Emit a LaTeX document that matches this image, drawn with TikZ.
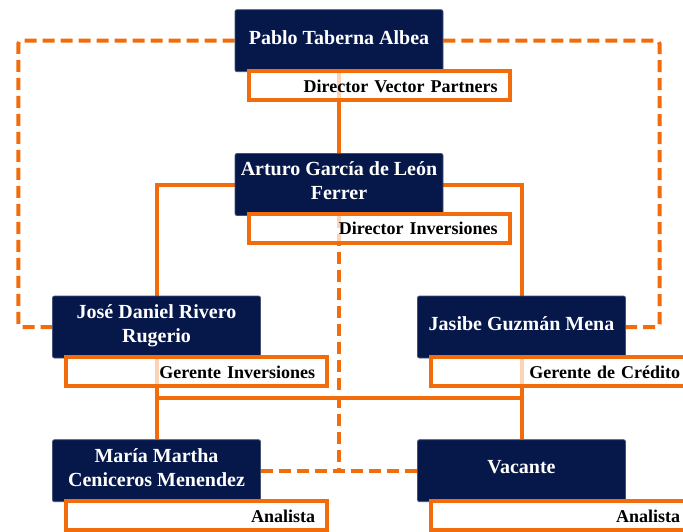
\documentclass[tikz,border=0pt]{standalone}
\usepackage{fontspec}
\setmainfont{Liberation Serif}
\usetikzlibrary{calc}
\definecolor{navy}{RGB}{6,24,74}
\definecolor{orng}{RGB}{242,108,12}
\pgfdeclarelayer{background}
\pgfsetlayers{background,main}
\tikzset{
  namebox/.style={fill=navy, draw=navy!75!white, line width=0.8pt, rounded corners=2pt,
    minimum width=208pt, minimum height=62pt, inner sep=2pt, text=white, align=center,
    text depth=7pt, font=\fontsize{20}{24}\selectfont\bfseries},
  rolebox/.style={draw=orng, line width=4pt, fill=white, fill opacity=0.7, text opacity=1,
    anchor=north west, outer sep=0pt, minimum height=29pt, inner xsep=12pt, inner ysep=0pt,
    text width=237pt, align=right, text=black, text height=12.8pt, text depth=0pt,
    font=\fontsize{18}{20}\selectfont\bfseries},
  solidline/.style={draw=orng, line width=4pt},
  dashline/.style={draw=orng, line width=4pt, dash pattern=on 12pt off 6pt, rounded corners=3pt}
}
\begin{document}
\begin{tikzpicture}[x=1pt,y=-1pt]
\useasboundingbox (0,0) rectangle (683,531);
\clip (0,0) rectangle (683,531);
% name boxes
\node[namebox] (pablo) at (339,40.7) {Pablo Taberna Albea};
\node[namebox] (arturo) at (339,184.5) {Arturo García de León\\Ferrer};
\node[namebox] (jose) at (156.5,327) {José Daniel Rivero\\Rugerio};
\node[namebox] (jasibe) at (521.5,327) {Jasibe Guzmán Mena};
\node[namebox] (maria) at (156.5,470.7) {María Martha\\Ceniceros Menendez};
\node[namebox] (vacante) at (521.5,470.7) {Vacante};
% role boxes
\node[rolebox] (pablorole) at ($(pablo.south west)+(14,-1)$) {Director Vector Partners};
\node[rolebox] (arturorole) at ($(arturo.south west)+(14,-2)$) {Director Inversiones};
\node[rolebox] (joserole) at ($(jose.south west)+(14,-1)$) {Gerente Inversiones};
\node[rolebox] (jasiberole) at ($(jasibe.south west)+(14,-1)$) {Gerente de Crédito};
\node[rolebox] (mariarole) at ($(maria.south west)+(14,-1)$) {Analista};
\node[rolebox] (vacanterole) at ($(vacante.south west)+(14,-1)$) {Analista};
\coordinate (lx) at (18.3,0);
\coordinate (rx) at (659.5,0);
\begin{pgfonlayer}{background}
\draw[solidline] (pablo.south) -- (arturo.north);
\draw[solidline] (arturo.west) -| (jose.north);
\draw[solidline] (arturo.east) -| (jasibe.north);
\draw[solidline] (jose.south) -- (maria.north);
\draw[solidline] (jasibe.south) -- (vacante.north);
\draw[solidline] (jose.south) -- ++(0,40) -| (vacante.north);
\draw[solidline] (jasibe.south) -- ++(0,40) -| (maria.north);
\draw[dashline] (pablo.west) -| (lx |- jose.west) -- (jose.west);
\draw[dashline] (pablo.east) -| (rx |- jasibe.east) -- (jasibe.east);
\draw[dashline] (arturo.south) -- (arturo.south |- maria.east);
\draw[dashline] (maria.east) -- (vacante.west);
\end{pgfonlayer}
\end{tikzpicture}
\end{document}
